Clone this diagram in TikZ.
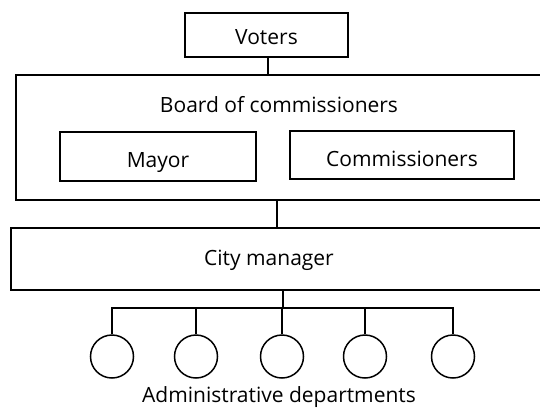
\documentclass[tikz,border=0pt]{standalone}
\usepackage{fontspec}
\setmainfont{Open Sans}
\begin{document}
\begin{tikzpicture}[x=1pt,y=-1pt,
  box/.style={draw,line width=1.5pt,inner sep=0pt},
  dept/.style={draw,line width=1.5pt,circle,minimum size=43pt,inner sep=0pt},
  conn/.style={line width=1.5pt},
  lbl/.style={font=\fontsize{21}{24}\selectfont,inner sep=0pt,anchor=base}]
\useasboundingbox (0,0) rectangle (540,408);
\clip (0,0) rectangle (540,408);
% boxes
\node[box,minimum width=163pt,minimum height=44pt] (voters) at (266.5,35) {};
\node[lbl] at (266.5,44) {Voters};
\draw[line width=1.5pt] (16,75) rectangle (545,200);
\coordinate (votersbot) at (268,57);
\coordinate (boardtop) at (268,75);
\coordinate (boardbot) at (277,200);
\node[lbl] (board) at (279,112) {Board of commissioners};
\node[box,minimum width=196pt,minimum height=49pt] (mayor) at (158,156.5) {};
\node[lbl] at (158,167) {Mayor};
\node[box,minimum width=224pt,minimum height=48pt] (comm) at (402,155) {};
\node[lbl] at (402,166) {Commissioners};
\draw[line width=1.5pt] (11,228) rectangle (545,290);
\coordinate (citytop) at (277,228);
\coordinate (citybot) at (283,290);
\node[lbl] (city) at (269,265) {City manager};
% connectors
\draw[conn] (votersbot) -- (boardtop);
\draw[conn] (boardbot) -- (citytop);
\coordinate (bus) at (283,308);
\draw[conn] (citybot) -- (bus);
% departments
\foreach \i/\x in {1/112,2/196,3/282,4/365,5/453}{
  \node[dept] (d\i) at (\x,356.5) {};
}
\draw[conn] (d1.north) |- (bus) -| (d5.north);
\draw[conn] (d2.north) -- (d2.north |- bus);
\draw[conn] (d3.north) -- (d3.north |- bus);
\draw[conn] (d4.north) -- (d4.north |- bus);
\node[lbl] (admin) at (279,402) {Administrative departments};
\end{tikzpicture}
\end{document}
